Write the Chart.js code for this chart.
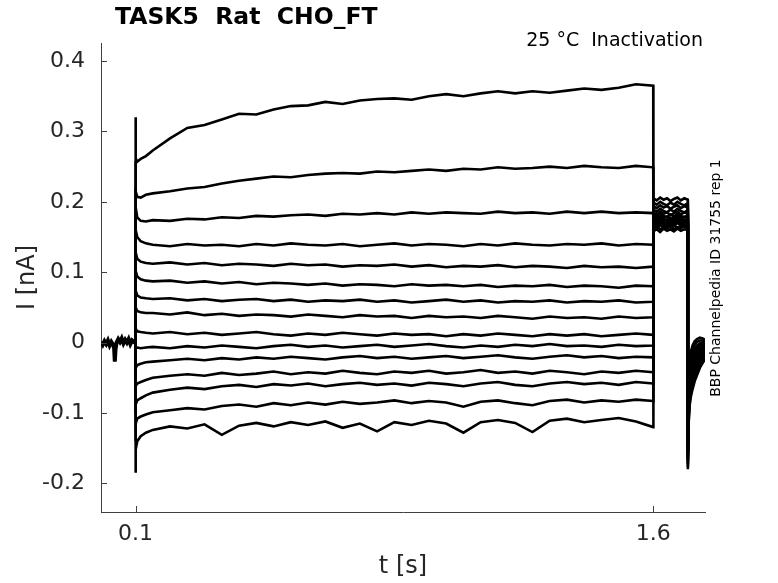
<!DOCTYPE html>
<html>
<head>
<meta charset="utf-8">
<title>TASK5 Rat CHO_FT</title>
<script src="https://cdn.jsdelivr.net/npm/chart.js@4.4.1/dist/chart.umd.min.js"></script>
<style>
    html, body { margin: 0; padding: 0; background: #fff; }
    #trace { display: block; }
</style>
</head>
<body>
<canvas id="trace" width="778" height="583"></canvas>
<script>
"use strict";

/* holding baseline before the prepulse (all sweeps overlap here) */
var baseTimes = [0, 0.005, 0.01, 0.015, 0.02, 0.025, 0.03, 0.035, 0.038, 0.04, 0.042, 0.045, 0.05,
    0.055, 0.06, 0.065, 0.07, 0.075, 0.08, 0.085, 0.09, 0.095, 0.1];
var baseCurrent = [0.001, -0.003, 0.002, -0.002, 0.003, -0.004, 0.001, -0.003, -0.008, -0.027, -0.010, 0.000, 0.005,
    0.001, 0.006, -0.001, 0.004, 0.000, 0.005, -0.002, 0.003, 0.001, 0.002];

/* prepulse, 0.1 s .. 1.6 s */
var stepTimes = [0.1, 0.101, 0.105, 0.115, 0.13, 0.15, 0.2, 0.25, 0.3, 0.35, 0.4, 0.45, 0.5, 0.55, 0.6,
    0.65, 0.7, 0.75, 0.8, 0.85, 0.9, 0.95, 1.0, 1.05, 1.1, 1.15, 1.2, 1.25, 1.3, 1.35, 1.4, 1.45, 1.5, 1.55, 1.6];
var stepCurrents = [
    [0.320, 0.262, 0.257, 0.261, 0.265, 0.273, 0.290, 0.305, 0.309, 0.317, 0.325, 0.324, 0.331, 0.336, 0.337, 0.342, 0.339, 0.344, 0.346, 0.347, 0.345, 0.350, 0.353, 0.350, 0.354, 0.357, 0.354, 0.357, 0.355, 0.358, 0.361, 0.359, 0.362, 0.367, 0.365],
    [0.258, 0.215, 0.207, 0.206, 0.210, 0.212, 0.215, 0.219, 0.221, 0.226, 0.230, 0.233, 0.236, 0.235, 0.238, 0.240, 0.241, 0.240, 0.243, 0.242, 0.244, 0.246, 0.244, 0.247, 0.246, 0.249, 0.247, 0.248, 0.250, 0.248, 0.251, 0.249, 0.248, 0.251, 0.249],
    [0.220, 0.192, 0.178, 0.173, 0.172, 0.174, 0.173, 0.176, 0.175, 0.178, 0.177, 0.180, 0.179, 0.181, 0.182, 0.180, 0.183, 0.182, 0.184, 0.182, 0.185, 0.183, 0.185, 0.184, 0.183, 0.186, 0.184, 0.185, 0.183, 0.186, 0.184, 0.186, 0.184, 0.185, 0.184],
    [0.185, 0.160, 0.150, 0.144, 0.141, 0.139, 0.137, 0.140, 0.138, 0.139, 0.137, 0.140, 0.138, 0.141, 0.139, 0.138, 0.140, 0.137, 0.139, 0.141, 0.138, 0.140, 0.139, 0.137, 0.140, 0.138, 0.141, 0.139, 0.138, 0.140, 0.139, 0.141, 0.138, 0.140, 0.139],
    [0.150, 0.128, 0.119, 0.115, 0.113, 0.112, 0.114, 0.111, 0.113, 0.110, 0.112, 0.111, 0.109, 0.112, 0.110, 0.111, 0.108, 0.110, 0.109, 0.111, 0.108, 0.110, 0.107, 0.109, 0.108, 0.110, 0.107, 0.109, 0.108, 0.106, 0.109, 0.107, 0.108, 0.106, 0.108],
    [0.120, 0.102, 0.094, 0.090, 0.088, 0.087, 0.088, 0.085, 0.087, 0.084, 0.086, 0.083, 0.085, 0.084, 0.082, 0.084, 0.081, 0.083, 0.082, 0.080, 0.083, 0.081, 0.082, 0.080, 0.082, 0.079, 0.081, 0.080, 0.082, 0.079, 0.081, 0.080, 0.078, 0.081, 0.080],
    [0.090, 0.074, 0.067, 0.064, 0.063, 0.062, 0.063, 0.060, 0.062, 0.059, 0.061, 0.062, 0.059, 0.061, 0.058, 0.060, 0.059, 0.061, 0.058, 0.060, 0.057, 0.059, 0.061, 0.058, 0.060, 0.057, 0.059, 0.058, 0.060, 0.057, 0.059, 0.058, 0.060, 0.057, 0.058],
    [0.060, 0.050, 0.045, 0.043, 0.042, 0.042, 0.040, 0.043, 0.039, 0.041, 0.038, 0.040, 0.039, 0.037, 0.040, 0.038, 0.036, 0.039, 0.037, 0.038, 0.035, 0.038, 0.036, 0.037, 0.035, 0.038, 0.036, 0.034, 0.037, 0.035, 0.036, 0.034, 0.037, 0.035, 0.036],
    [0.030, 0.020, 0.016, 0.015, 0.014, 0.013, 0.015, 0.012, 0.014, 0.011, 0.013, 0.015, 0.012, 0.010, 0.013, 0.011, 0.014, 0.012, 0.010, 0.013, 0.011, 0.012, 0.009, 0.012, 0.010, 0.013, 0.011, 0.009, 0.012, 0.010, 0.012, 0.009, 0.011, 0.013, 0.011],
    [-0.010, -0.008, -0.007, -0.008, -0.007, -0.006, -0.008, -0.005, -0.007, -0.004, -0.006, -0.008, -0.005, -0.003, -0.006, -0.004, -0.007, -0.005, -0.003, -0.006, -0.004, -0.002, -0.005, -0.007, -0.004, -0.006, -0.003, -0.005, -0.002, -0.005, -0.004, -0.006, -0.003, -0.005, -0.004],
    [-0.040, -0.036, -0.032, -0.030, -0.028, -0.027, -0.025, -0.023, -0.025, -0.022, -0.024, -0.021, -0.023, -0.020, -0.022, -0.024, -0.021, -0.019, -0.022, -0.020, -0.023, -0.021, -0.019, -0.022, -0.020, -0.018, -0.021, -0.023, -0.020, -0.018, -0.021, -0.019, -0.022, -0.020, -0.021],
    [-0.070, -0.062, -0.058, -0.056, -0.053, -0.050, -0.047, -0.045, -0.047, -0.043, -0.046, -0.044, -0.041, -0.045, -0.042, -0.044, -0.040, -0.043, -0.045, -0.041, -0.043, -0.040, -0.044, -0.042, -0.039, -0.043, -0.041, -0.044, -0.040, -0.042, -0.045, -0.041, -0.043, -0.040, -0.042],
    [-0.100, -0.088, -0.082, -0.079, -0.075, -0.071, -0.067, -0.064, -0.066, -0.062, -0.060, -0.063, -0.059, -0.061, -0.058, -0.062, -0.059, -0.057, -0.060, -0.058, -0.061, -0.057, -0.059, -0.062, -0.058, -0.056, -0.060, -0.062, -0.058, -0.056, -0.059, -0.057, -0.060, -0.056, -0.058],
    [-0.140, -0.115, -0.108, -0.105, -0.102, -0.099, -0.096, -0.093, -0.095, -0.090, -0.088, -0.091, -0.086, -0.089, -0.085, -0.088, -0.084, -0.087, -0.085, -0.082, -0.086, -0.083, -0.085, -0.091, -0.084, -0.082, -0.086, -0.089, -0.083, -0.081, -0.085, -0.082, -0.084, -0.081, -0.083],
    [-0.185, -0.152, -0.140, -0.133, -0.128, -0.124, -0.119, -0.122, -0.116, -0.131, -0.118, -0.114, -0.119, -0.113, -0.117, -0.112, -0.121, -0.115, -0.126, -0.113, -0.117, -0.111, -0.115, -0.128, -0.113, -0.110, -0.114, -0.127, -0.111, -0.108, -0.113, -0.110, -0.107, -0.112, -0.120]
];

/* test pulse, 1.6 s .. 1.7 s */
var tailTimes = [1.6005, 1.61, 1.62, 1.63, 1.64, 1.65, 1.66, 1.67, 1.68, 1.69, 1.7];
var tailCurrents = [
    [0.158, 0.161, 0.157, 0.162, 0.159, 0.161, 0.158, 0.162, 0.159, 0.161, 0.160],
    [0.162, 0.165, 0.161, 0.164, 0.162, 0.166, 0.161, 0.164, 0.163, 0.165, 0.162],
    [0.166, 0.163, 0.167, 0.164, 0.168, 0.165, 0.167, 0.163, 0.166, 0.168, 0.165],
    [0.168, 0.166, 0.169, 0.167, 0.165, 0.169, 0.166, 0.170, 0.167, 0.165, 0.168],
    [0.171, 0.168, 0.172, 0.169, 0.171, 0.167, 0.170, 0.172, 0.168, 0.171, 0.169],
    [0.173, 0.170, 0.174, 0.171, 0.169, 0.173, 0.171, 0.174, 0.170, 0.172, 0.171],
    [0.175, 0.172, 0.176, 0.173, 0.175, 0.171, 0.174, 0.176, 0.172, 0.175, 0.173],
    [0.177, 0.174, 0.178, 0.175, 0.173, 0.177, 0.174, 0.178, 0.175, 0.173, 0.176],
    [0.179, 0.176, 0.180, 0.177, 0.179, 0.175, 0.178, 0.180, 0.176, 0.179, 0.177],
    [0.182, 0.179, 0.183, 0.180, 0.178, 0.182, 0.179, 0.183, 0.180, 0.178, 0.181],
    [0.185, 0.182, 0.186, 0.183, 0.185, 0.181, 0.184, 0.186, 0.182, 0.185, 0.183],
    [0.189, 0.186, 0.190, 0.187, 0.185, 0.189, 0.186, 0.190, 0.187, 0.185, 0.188],
    [0.194, 0.191, 0.195, 0.192, 0.194, 0.190, 0.193, 0.195, 0.191, 0.194, 0.192],
    [0.199, 0.196, 0.200, 0.197, 0.195, 0.199, 0.196, 0.200, 0.197, 0.195, 0.198],
    [0.205, 0.202, 0.206, 0.203, 0.205, 0.201, 0.204, 0.206, 0.202, 0.205, 0.203]
];

/* return to holding after 1.7 s */
var postTimes = [1.7004, 1.702, 1.705, 1.709, 1.714, 1.72, 1.727, 1.735, 1.743, 1.75];
var postCurrents = [
    [-0.180, -0.122, -0.091, -0.077, -0.066, -0.055, -0.046, -0.036, -0.029, -0.024],
    [-0.176, -0.118, -0.087, -0.072, -0.061, -0.052, -0.043, -0.034, -0.027, -0.022],
    [-0.172, -0.114, -0.083, -0.068, -0.058, -0.048, -0.040, -0.032, -0.025, -0.020],
    [-0.168, -0.110, -0.079, -0.063, -0.054, -0.045, -0.037, -0.029, -0.023, -0.018],
    [-0.164, -0.106, -0.075, -0.059, -0.049, -0.041, -0.033, -0.026, -0.020, -0.016],
    [-0.160, -0.102, -0.071, -0.054, -0.045, -0.037, -0.030, -0.023, -0.018, -0.014],
    [-0.156, -0.098, -0.067, -0.050, -0.041, -0.033, -0.027, -0.020, -0.015, -0.012],
    [-0.152, -0.094, -0.063, -0.045, -0.036, -0.029, -0.023, -0.017, -0.013, -0.010],
    [-0.148, -0.090, -0.059, -0.041, -0.032, -0.025, -0.019, -0.014, -0.010, -0.008],
    [-0.144, -0.086, -0.055, -0.036, -0.027, -0.021, -0.016, -0.011, -0.008, -0.006],
    [-0.140, -0.082, -0.051, -0.032, -0.023, -0.017, -0.012, -0.008, -0.005, -0.004],
    [-0.136, -0.078, -0.047, -0.027, -0.018, -0.012, -0.008, -0.004, -0.003, -0.002],
    [-0.132, -0.074, -0.043, -0.023, -0.014, -0.008, -0.004, -0.001, 0.000, 0.000],
    [-0.128, -0.070, -0.039, -0.018, -0.009, -0.003, 0.001, 0.003, 0.003, 0.002],
    [-0.124, -0.066, -0.035, -0.013, -0.004, 0.002, 0.005, 0.007, 0.006, 0.004]
];

var xTicks = [0.1, 1.6];
var yTicks = [-0.2, -0.1, 0, 0.1, 0.2, 0.3, 0.4];

var axisColor = '#404040';
var textColor = '#262626';

Chart.defaults.font.family = '"DejaVu Sans", sans-serif';

function toPoints(times, values) {
    return times.map(function (t, i) { return { x: t, y: values[i] }; });
}

var datasets = [{
    data: toPoints(baseTimes, baseCurrent),
    borderWidth: 4
}];
stepCurrents.forEach(function (row, i) {
    var pts = [{ x: 0.1, y: baseCurrent[baseCurrent.length - 1] }]
        .concat(toPoints(stepTimes, row))
        .concat(toPoints(tailTimes, tailCurrents[i]))
        .concat(toPoints(postTimes, postCurrents[i]));
    datasets.push({ data: pts, borderWidth: 2.6 });
});
datasets.forEach(function (d) {
    d.showLine = true;
    d.borderColor = '#000';
    d.pointRadius = 0;
    d.tension = 0;
    d.fill = false;
    d.borderJoinStyle = 'miter';
});

/* MATLAB style: inward ticks, labels and annotations */
var matlabDecor = {
    id: 'matlabDecor',
    afterDraw: function (chart) {
        var ctx = chart.ctx;
        var xs = chart.scales.x, ys = chart.scales.y;
        var a = chart.chartArea;
        ctx.save();
        ctx.strokeStyle = axisColor;
        ctx.lineWidth = 1;
        ctx.beginPath();
        yTicks.forEach(function (v) {
            var py = Math.round(ys.getPixelForValue(v)) + 0.5;
            ctx.moveTo(a.left, py);
            ctx.lineTo(a.left + 6, py);
        });
        xTicks.forEach(function (v) {
            var px = Math.round(xs.getPixelForValue(v)) + 0.5;
            ctx.moveTo(px, a.bottom);
            ctx.lineTo(px, a.bottom - 6);
        });
        ctx.stroke();

        ctx.fillStyle = textColor;
        ctx.textBaseline = 'middle';
        ctx.textAlign = 'center';
        ctx.font = '24px "DejaVu Sans"';
        ctx.fillText('t [s]', (a.left + a.right) / 2, 567);
        ctx.save();
        ctx.translate(28, (a.top + a.bottom) / 2);
        ctx.rotate(-Math.PI / 2);
        ctx.fillText('I [nA]', 0, 0);
        ctx.restore();

        ctx.fillStyle = '#000';
        ctx.textAlign = 'left';
        ctx.font = 'bold 23.5px "DejaVu Sans"';
        ctx.fillText('TASK5  Rat  CHO_FT', 115, 18);

        ctx.textAlign = 'right';
        ctx.font = '19px "DejaVu Sans"';
        ctx.fillText('25 \u00b0C  Inactivation', 703, 41);

        ctx.save();
        ctx.translate(716, 278);
        ctx.rotate(-Math.PI / 2);
        ctx.textAlign = 'center';
        ctx.font = '14px "DejaVu Sans"';
        ctx.fillText('BBP Channelpedia ID 31755 rep 1', 0, 0);
        ctx.restore();
        ctx.restore();
    }
};

var ctx = document.getElementById('trace').getContext('2d');
var traceChart = new Chart(ctx, {
    type: 'scatter',
    data: { datasets: datasets },
    options: {
        responsive: false,
        devicePixelRatio: 1,
        animation: false,
        layout: { padding: { left: 0, top: 43, right: 73, bottom: 0 } },
        plugins: {
            legend: { display: false },
            tooltip: { enabled: false }
        },
        scales: {
            x: {
                type: 'linear',
                min: 0,
                max: 1.75,
                afterBuildTicks: function (scale) {
                    scale.ticks = xTicks.map(function (v) { return { value: v }; });
                },
                afterFit: function (scale) { scale.height = 71; },
                grid: { display: false, drawTicks: false },
                border: { display: true, color: axisColor, width: 1 },
                ticks: {
                    color: textColor,
                    padding: 9,
                    font: { size: 22 },
                    maxRotation: 0,
                    autoSkip: false,
                    callback: function (v) { return v.toFixed(1); }
                }
            },
            y: {
                type: 'linear',
                min: -0.2406,
                max: 0.4256,
                afterBuildTicks: function (scale) {
                    scale.ticks = yTicks.map(function (v) { return { value: v }; });
                },
                afterFit: function (scale) { scale.width = 101; },
                grid: { display: false, drawTicks: false },
                border: { display: true, color: axisColor, width: 1 },
                ticks: {
                    color: textColor,
                    padding: 16,
                    font: { size: 22 },
                    autoSkip: false,
                    callback: function (v) { return v === 0 ? '0' : v.toFixed(1); }
                }
            }
        }
    },
    plugins: [matlabDecor]
});
</script>
</body>
</html>
